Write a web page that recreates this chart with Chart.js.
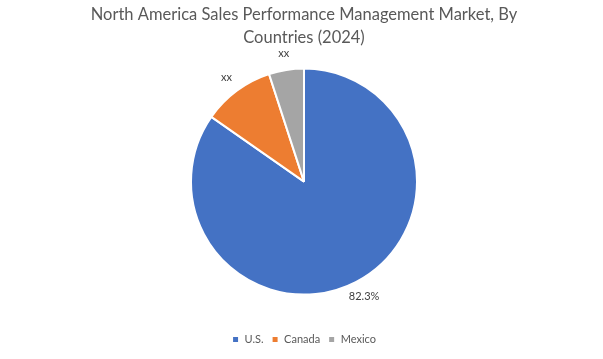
<!DOCTYPE html>
<html>
<head>
<meta charset="utf-8">
<script src="https://cdn.jsdelivr.net/npm/chart.js@4.4.0/dist/chart.umd.min.js"></script>
<style>
  html, body { margin: 0; padding: 0; background: #fff; }
  #wrap { width: 603px; height: 359px; }
</style>
</head>
<body>
<div id="wrap"><canvas id="myChart" width="603" height="359"></canvas></div>
<script>
var countries = ['U.S.', 'Canada', 'Mexico'];
var share = [84.7, 10.3, 5.0];
var sliceLabels = ['82.3%', 'xx', 'xx'];
var colors = ['#4472C4', '#ED7D31', '#A5A5A5'];

// label text outside each slice
var outsideLabels = {
    id: 'outsideLabels',
    afterDatasetsDraw: function (chart) {
        var ctx = chart.ctx;
        var meta = chart.getDatasetMeta(0);
        ctx.save();
        ctx.font = '11px Lato';
        ctx.fillStyle = '#404040';
        ctx.textAlign = 'center';
        ctx.textBaseline = 'middle';
        meta.data.forEach(function (arc, i) {
            var mid = (arc.startAngle + arc.endAngle) / 2;
            var r = arc.outerRadius + 17;
            ctx.fillText(sliceLabels[i], arc.x + Math.cos(mid) * r, arc.y + Math.sin(mid) * r);
        });
        ctx.restore();
    }
};

var ctx = document.getElementById('myChart').getContext('2d');
var myChart = new Chart(ctx, {
    type: 'pie',
    data: {
        labels: countries,
        datasets: [{
            data: share,
            backgroundColor: colors,
            borderColor: '#ffffff',
            borderWidth: 2
        }]
    },
    options: {
        responsive: false,
        animation: false,
        radius: 113,
        layout: { padding: { left: 5, right: 0, top: 3, bottom: 4 } },
        plugins: {
            title: {
                display: true,
                text: ['North America Sales Performance Management Market, By', 'Countries (2024)'],
                color: '#595959',
                font: { family: 'Lato', size: 16.5, weight: 'normal', lineHeight: 1.4 },
                padding: { top: 0, bottom: -12 }
            },
            legend: {
                position: 'bottom',
                labels: {
                    boxWidth: 7,
                    boxHeight: 7,
                    color: '#595959',
                    font: { family: 'Lato', size: 11 },
                    padding: 8
                }
            },
            tooltip: { enabled: false }
        }
    },
    plugins: [outsideLabels]
});
</script>
</body>
</html>
